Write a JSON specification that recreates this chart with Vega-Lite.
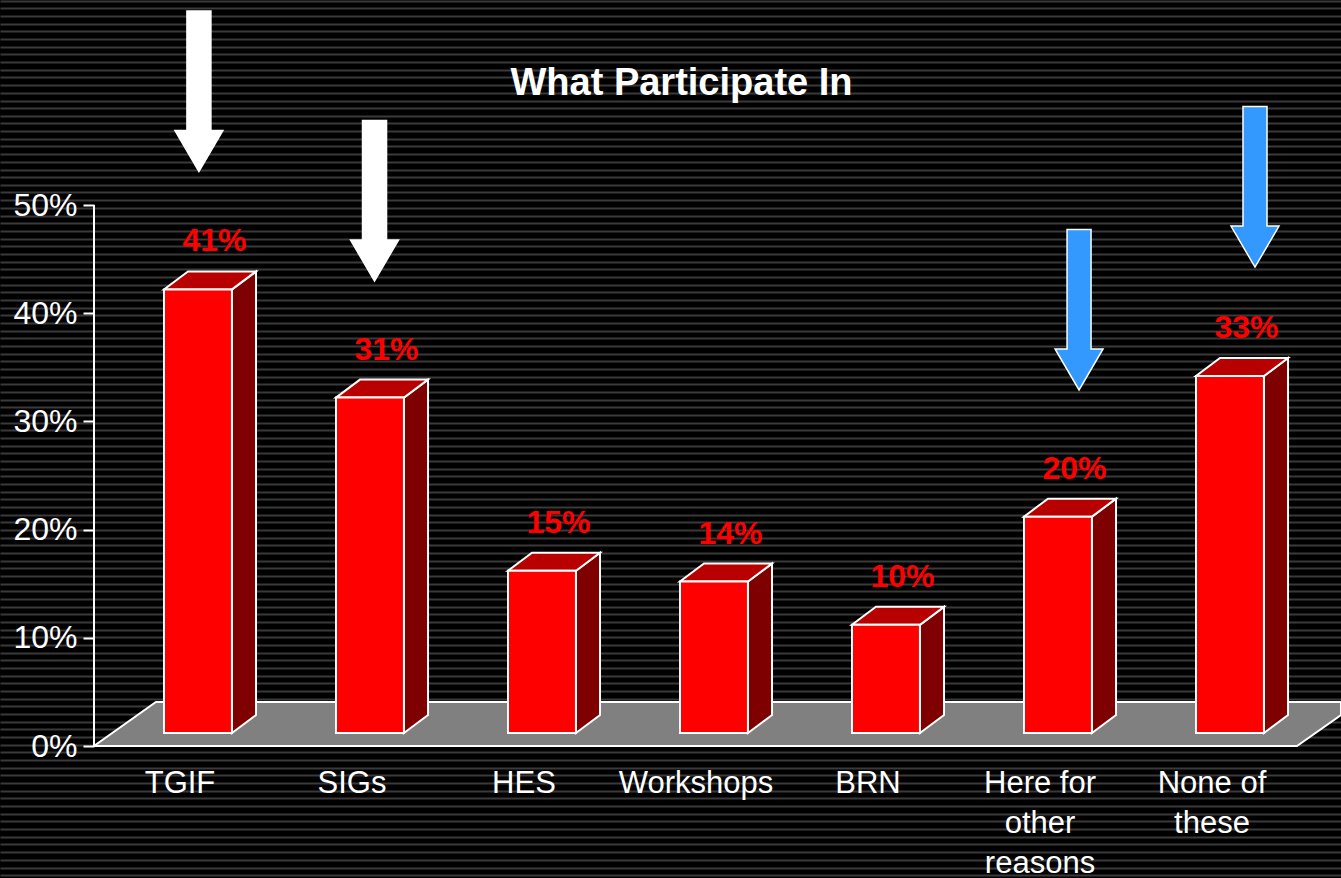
{"$schema":"https://vega.github.io/schema/vega-lite/v6.json","width":1341,"height":878,"autosize":"none","padding":0,"background":"#000000","view":{"stroke":null,"fill":null},"config":{"font":"Liberation Sans"},"title":{"text":"What Participate In","anchor":"middle","offset":-133,"dx":11,"fontSize":38,"fontWeight":"bold","color":"#ffffff","font":"Liberation Sans","baseline":"alphabetic"},"datasets":{"bars":[{"name":"TGIF","label":"TGIF","slot":0,"value":41},{"name":"SIGs","label":"SIGs","slot":1,"value":31},{"name":"HES","label":"HES","slot":2,"value":15},{"name":"Workshops","label":"Workshops","slot":3,"value":14},{"name":"BRN","label":"BRN","slot":4,"value":10},{"name":"Here for other reasons","label":"Here for\nother\nreasons","slot":5,"value":20},{"name":"None of these","label":"None of\nthese","slot":6,"value":33}],"floor":[{"fx":0,"low":0,"high":0},{"fx":0.36,"low":0,"high":4.07},{"fx":6.994,"low":0,"high":4.07},{"fx":7.25,"low":2.87,"high":4.07}],"arrows":[{"kind":"white","ax":0.61,"ay":60.5},{"kind":"white","ax":1.631,"ay":50.37},{"kind":"blue","ax":5.727,"ay":40.3},{"kind":"blue","ax":6.75,"ay":51.66}]},"resolve":{"axis":{"y":"independent"}},"layer":[{"data":{"values":[{}]},"mark":{"type":"rule","opacity":0},"encoding":{"x":{"datum":0,"type":"quantitative","scale":{"domain":[-0.5465,7.25],"nice":false,"zero":false},"axis":null},"y":{"datum":0,"type":"quantitative","scale":{"domain":[-12.2,68.95],"nice":false,"zero":false},"axis":{"orient":"left","title":null,"labels":false,"ticks":false,"domain":false,"grid":true,"gridColor":"#3a3a3a","gridWidth":2,"values":[68.88,68.17,67.46,66.75,66.04,65.34,64.63,63.92,63.21,62.5,61.79,61.08,60.37,59.66,58.96,58.25,57.54,56.83,56.12,55.41,54.7,53.99,53.28,52.58,51.87,51.16,50.45,49.74,49.03,48.32,47.61,46.9,46.2,45.49,44.78,44.07,43.36,42.65,41.94,41.23,40.52,39.82,39.11,38.4,37.69,36.98,36.27,35.56,34.85,34.14,33.44,32.73,32.02,31.31,30.6,29.89,29.18,28.47,27.76,27.05,26.35,25.64,24.93,24.22,23.51,22.8,22.09,21.38,20.67,19.97,19.26,18.55,17.84,17.13,16.42,15.71,15,14.29,13.58,12.88,12.17,11.46,10.75,10.04,9.33,8.62,7.91,7.2,6.5,5.79,5.08,4.37,3.66,2.95,2.24,1.53,0.82,0.11,-0.59,-1.3,-2.01,-2.72,-3.43,-4.14,-4.85,-5.56,-6.27,-6.97,-7.68,-8.39,-9.1,-9.81,-10.52,-11.23,-11.94]}}}},{"data":{"name":"floor"},"mark":{"type":"area","orient":"vertical","fill":"#808080","stroke":"#ffffff","strokeWidth":2},"encoding":{"x":{"field":"fx","type":"quantitative","scale":{"domain":[-0.5465,7.25],"nice":false,"zero":false},"axis":{"orient":"bottom","offset":-132,"title":null,"values":[0,1,2,3,4,5,6,7],"labels":false,"grid":false,"domain":false,"tickColor":"#ffffff","tickWidth":2,"tickSize":12}},"y":{"field":"low","type":"quantitative","scale":{"domain":[-12.2,68.95],"nice":false,"zero":false},"axis":{"orient":"left","offset":-94,"title":null,"values":[0,10,20,30,40,50],"format":".0f","labelExpr":"datum.value + '%'","grid":false,"domain":false,"tickColor":"#ffffff","tickWidth":2,"tickSize":11,"labelColor":"#ffffff","labelFontSize":32,"labelFont":"Liberation Sans","labelPadding":6}},"y2":{"field":"high"}}},{"data":{"values":[{}]},"mark":{"type":"rule","color":"#ffffff","strokeWidth":2},"encoding":{"x":{"datum":0,"type":"quantitative","scale":{"domain":[-0.5465,7.25],"nice":false,"zero":false},"axis":null},"y":{"datum":0,"type":"quantitative","scale":{"domain":[-12.2,68.95],"nice":false,"zero":false},"axis":null},"y2":{"datum":50}}},{"data":{"name":"bars"},"transform":[{"calculate":"[0,1]","as":"t"},{"flatten":["t"]},{"calculate":"datum.slot+0.802+0.14*datum.t","as":"sx"},{"calculate":"1.2+1.66*datum.t","as":"sy"},{"calculate":"datum.value+1.2+1.66*datum.t","as":"sy2"}],"mark":{"type":"area","orient":"vertical","fill":"#7f0000","stroke":"#ffffff","strokeWidth":2},"encoding":{"detail":{"field":"name"},"x":{"field":"sx","type":"quantitative","scale":{"domain":[-0.5465,7.25],"nice":false,"zero":false},"axis":null},"y":{"field":"sy","type":"quantitative","scale":{"domain":[-12.2,68.95],"nice":false,"zero":false},"axis":null},"y2":{"field":"sy2"}}},{"data":{"name":"bars"},"transform":[{"calculate":"datum.slot+0.407","as":"bx"},{"calculate":"datum.value+1.2","as":"top"}],"mark":{"type":"point","shape":"M0,0 L68,0 L92,-18 L24,-18 Z","size":4,"filled":true,"fill":"#b80000","stroke":"#ffffff","strokeWidth":2,"opacity":1},"encoding":{"x":{"field":"bx","type":"quantitative","scale":{"domain":[-0.5465,7.25],"nice":false,"zero":false},"axis":null},"y":{"field":"top","type":"quantitative","scale":{"domain":[-12.2,68.95],"nice":false,"zero":false},"axis":null}}},{"data":{"name":"bars"},"transform":[{"calculate":"datum.slot+0.407","as":"bx"},{"calculate":"datum.slot+0.802","as":"bx2"},{"calculate":"datum.value+1.2","as":"top"},{"calculate":"1.2","as":"base"}],"mark":{"type":"rect","fill":"#ff0000","stroke":"#ffffff","strokeWidth":2},"encoding":{"x":{"field":"bx","type":"quantitative","scale":{"domain":[-0.5465,7.25],"nice":false,"zero":false},"axis":null},"x2":{"field":"bx2"},"y":{"field":"base","type":"quantitative","scale":{"domain":[-12.2,68.95],"nice":false,"zero":false},"axis":null},"y2":{"field":"top"}}},{"data":{"name":"bars"},"transform":[{"calculate":"datum.slot+0.7","as":"lx"},{"calculate":"datum.value+1.2","as":"top"},{"calculate":"datum.value+'%'","as":"pct"}],"mark":{"type":"text","dy":-48,"fontSize":32,"fontWeight":"bold","color":"#ff0000","font":"Liberation Sans","align":"center","baseline":"middle"},"encoding":{"x":{"field":"lx","type":"quantitative","scale":{"domain":[-0.5465,7.25],"nice":false,"zero":false},"axis":null},"y":{"field":"top","type":"quantitative","scale":{"domain":[-12.2,68.95],"nice":false,"zero":false},"axis":null},"text":{"field":"pct"}}},{"data":{"name":"bars"},"transform":[{"calculate":"datum.slot+0.5","as":"cx"}],"mark":{"type":"text","lineBreak":"\n","lineHeight":40,"fontSize":31,"color":"#ffffff","font":"Liberation Sans","align":"center","baseline":"alphabetic"},"encoding":{"x":{"field":"cx","type":"quantitative","scale":{"domain":[-0.5465,7.25],"nice":false,"zero":false},"axis":null},"y":{"datum":-4.34,"type":"quantitative","scale":{"domain":[-12.2,68.95],"nice":false,"zero":false},"axis":null},"text":{"field":"label"}}},{"data":{"name":"arrows"},"mark":{"type":"point","shape":"M-12,-80.5 L12,-80.5 L12,39 L24,39 L0,80 L-24,39 L-12,39 Z","size":4,"filled":true,"stroke":"#ffffff","strokeWidth":1.5,"opacity":1},"encoding":{"x":{"field":"ax","type":"quantitative","scale":{"domain":[-0.5465,7.25],"nice":false,"zero":false},"axis":null},"y":{"field":"ay","type":"quantitative","scale":{"domain":[-12.2,68.95],"nice":false,"zero":false},"axis":null},"fill":{"field":"kind","type":"nominal","scale":{"domain":["white","blue"],"range":["#ffffff","#3399ff"]},"legend":null}}}]}
